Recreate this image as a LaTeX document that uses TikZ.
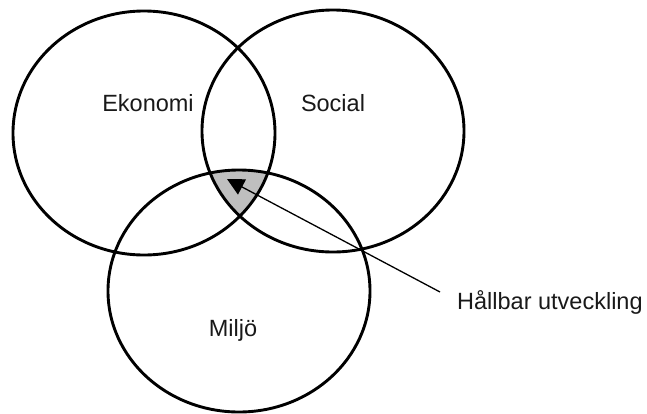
\documentclass[tikz,border=0pt]{standalone}
\usepackage{fontspec}
\setmainfont{Liberation Sans}
\usetikzlibrary{arrows.meta}
\begin{document}
\begin{tikzpicture}[x=1pt,y=-1pt,
  ring/.style={line width=2.9pt, draw=black},
  lbl/.style={font=\fontsize{23.5}{28}\selectfont, inner sep=0pt, text=black!90},
  pointer/.style={line width=1.3pt, -{Triangle[length=17pt,width=17pt]}}]
\useasboundingbox (0,0) rectangle (647,413);
% shared region
\begin{scope}
  \clip (144,133) ellipse [x radius=131, y radius=122];
  \clip (333,131) ellipse [x radius=131, y radius=121];
  \fill[black!25] (239,291) ellipse [x radius=131, y radius=121];
\end{scope}
% circles
\draw[ring] (144,133) ellipse [x radius=131, y radius=122];
\draw[ring] (333,131) ellipse [x radius=131, y radius=121];
\draw[ring] (239,291) ellipse [x radius=131, y radius=121];
% labels
\node[lbl, anchor=base] (eko) at (148,111) {Ekonomi};
\node[lbl, anchor=base] (soc) at (333,111) {Social};
\node[lbl, anchor=base] (mil) at (233,336) {Miljö};
\node[lbl, anchor=base west] (hall) at (457,309) {Hållbar utveckling};
% pointer
\coordinate (tail) at (440,292);
\coordinate (tip) at (227,179);
\draw[pointer] (tail) -- (tip);
\end{tikzpicture}
\end{document}
